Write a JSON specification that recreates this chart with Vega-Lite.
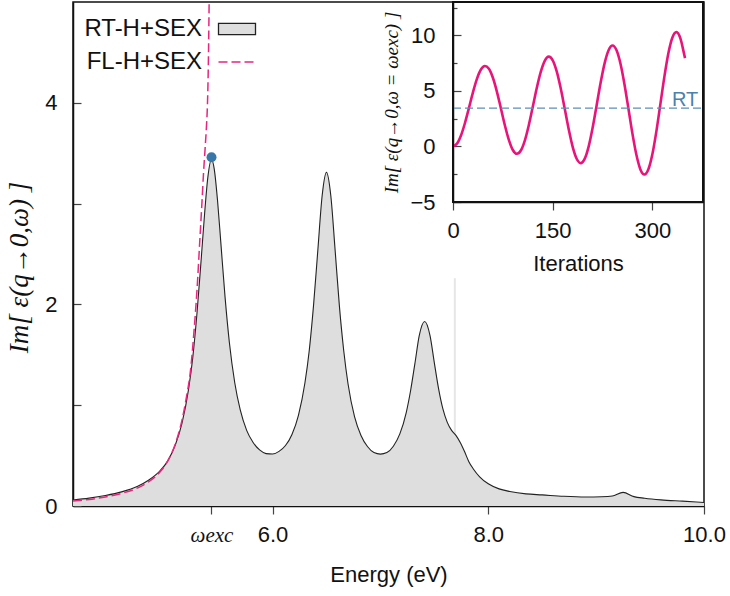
{
  "$schema": "https://vega.github.io/schema/vega-lite/v6.json",
  "width": 631,
  "height": 504,
  "autosize": {"type": "none"},
  "padding": {"left": 73, "top": 2, "right": 26, "bottom": 90},
  "background": "white",
  "config": {
    "font": "Liberation Sans",
    "view": {"stroke": "#111", "strokeWidth": 1.5},
    "axis": {
      "grid": false,
      "labelFlush": false,
      "labelFont": "Liberation Sans",
      "labelFontSize": 22,
      "labelColor": "#111",
      "titleFont": "Liberation Sans",
      "titleFontSize": 22,
      "titleFontWeight": "normal",
      "titleColor": "#111",
      "domainColor": "#111",
      "domainWidth": 1.5,
      "tickColor": "#444",
      "tickWidth": 1.2
    }
  },
  "datasets": {
    "rt": [
      {"x": 4.15, "y": 0.06}, {"x": 4.3, "y": 0.078}, {"x": 4.45, "y": 0.104}, {"x": 4.6, "y": 0.14},
      {"x": 4.75, "y": 0.196}, {"x": 4.85, "y": 0.255}, {"x": 4.95, "y": 0.34}, {"x": 5.03, "y": 0.45},
      {"x": 5.1, "y": 0.61}, {"x": 5.16, "y": 0.82}, {"x": 5.22, "y": 1.15}, {"x": 5.26, "y": 1.47},
      {"x": 5.3, "y": 1.92}, {"x": 5.34, "y": 2.47}, {"x": 5.37, "y": 2.9}, {"x": 5.4, "y": 3.26},
      {"x": 5.434, "y": 3.44}, {"x": 5.46, "y": 3.34}, {"x": 5.49, "y": 3.03}, {"x": 5.52, "y": 2.62},
      {"x": 5.56, "y": 2.07}, {"x": 5.6, "y": 1.62}, {"x": 5.65, "y": 1.22}, {"x": 5.7, "y": 0.955},
      {"x": 5.76, "y": 0.75}, {"x": 5.82, "y": 0.63}, {"x": 5.88, "y": 0.556}, {"x": 5.94, "y": 0.52},
      {"x": 6.0, "y": 0.516}, {"x": 6.06, "y": 0.542}, {"x": 6.12, "y": 0.6}, {"x": 6.18, "y": 0.71},
      {"x": 6.24, "y": 0.9}, {"x": 6.3, "y": 1.22}, {"x": 6.34, "y": 1.54}, {"x": 6.38, "y": 1.99},
      {"x": 6.42, "y": 2.54}, {"x": 6.46, "y": 3.08}, {"x": 6.5, "y": 3.31}, {"x": 6.54, "y": 3.08},
      {"x": 6.58, "y": 2.54}, {"x": 6.62, "y": 1.98}, {"x": 6.66, "y": 1.54}, {"x": 6.7, "y": 1.21},
      {"x": 6.76, "y": 0.886}, {"x": 6.82, "y": 0.7}, {"x": 6.88, "y": 0.59}, {"x": 6.94, "y": 0.53},
      {"x": 7.0, "y": 0.515}, {"x": 7.06, "y": 0.53}, {"x": 7.12, "y": 0.593}, {"x": 7.18, "y": 0.715},
      {"x": 7.24, "y": 0.93}, {"x": 7.28, "y": 1.146}, {"x": 7.32, "y": 1.415}, {"x": 7.36, "y": 1.69},
      {"x": 7.41, "y": 1.83}, {"x": 7.46, "y": 1.69}, {"x": 7.5, "y": 1.42}, {"x": 7.54, "y": 1.16},
      {"x": 7.58, "y": 0.96}, {"x": 7.62, "y": 0.83}, {"x": 7.66, "y": 0.75}, {"x": 7.7, "y": 0.7},
      {"x": 7.74, "y": 0.63}, {"x": 7.78, "y": 0.54}, {"x": 7.82, "y": 0.44}, {"x": 7.86, "y": 0.37},
      {"x": 7.92, "y": 0.29}, {"x": 8.0, "y": 0.22}, {"x": 8.1, "y": 0.17}, {"x": 8.2, "y": 0.144},
      {"x": 8.35, "y": 0.12}, {"x": 8.5, "y": 0.11}, {"x": 8.7, "y": 0.096}, {"x": 8.9, "y": 0.089},
      {"x": 9.05, "y": 0.092}, {"x": 9.15, "y": 0.1}, {"x": 9.25, "y": 0.135}, {"x": 9.35, "y": 0.093},
      {"x": 9.45, "y": 0.077}, {"x": 9.6, "y": 0.061}, {"x": 9.8, "y": 0.048}, {"x": 10.0, "y": 0.035}
    ],
    "fl": [
      {"x": 4.15, "y": 0.05}, {"x": 4.3, "y": 0.065}, {"x": 4.45, "y": 0.09}, {"x": 4.6, "y": 0.125},
      {"x": 4.75, "y": 0.18}, {"x": 4.85, "y": 0.24}, {"x": 4.95, "y": 0.33}, {"x": 5.03, "y": 0.45},
      {"x": 5.1, "y": 0.62}, {"x": 5.16, "y": 0.85}, {"x": 5.2, "y": 1.07}, {"x": 5.24, "y": 1.35},
      {"x": 5.273, "y": 1.75}, {"x": 5.3, "y": 2.15}, {"x": 5.326, "y": 2.64}, {"x": 5.345, "y": 3.0},
      {"x": 5.36, "y": 3.3}, {"x": 5.375, "y": 3.55}, {"x": 5.388, "y": 3.78}, {"x": 5.397, "y": 4.0},
      {"x": 5.405, "y": 4.4}, {"x": 5.41, "y": 4.8}, {"x": 5.415, "y": 5.3}, {"x": 5.42, "y": 6.0}
    ],
    "inset": [
      {"t": 0, "v": 0.03}, {"t": 6, "v": 0.25}, {"t": 12, "v": 0.98}, {"t": 18, "v": 2.11},
      {"t": 24, "v": 3.47}, {"t": 30, "v": 4.87}, {"t": 36, "v": 6.08}, {"t": 42, "v": 6.92},
      {"t": 48, "v": 7.24}, {"t": 54, "v": 6.99}, {"t": 60, "v": 6.18}, {"t": 66, "v": 4.94},
      {"t": 72, "v": 3.44}, {"t": 78, "v": 1.91}, {"t": 84, "v": 0.59}, {"t": 90, "v": -0.32},
      {"t": 96, "v": -0.66}, {"t": 102, "v": -0.37}, {"t": 108, "v": 0.53}, {"t": 114, "v": 1.91},
      {"t": 120, "v": 3.57}, {"t": 126, "v": 5.26}, {"t": 132, "v": 6.71}, {"t": 138, "v": 7.71},
      {"t": 144, "v": 8.08}, {"t": 150, "v": 7.75}, {"t": 156, "v": 6.75}, {"t": 162, "v": 5.23},
      {"t": 168, "v": 3.41}, {"t": 174, "v": 1.56}, {"t": 180, "v": -0.04}, {"t": 186, "v": -1.11},
      {"t": 192, "v": -1.5}, {"t": 198, "v": -1.12}, {"t": 204, "v": -0.01}, {"t": 210, "v": 1.68},
      {"t": 216, "v": 3.69}, {"t": 222, "v": 5.73}, {"t": 228, "v": 7.48}, {"t": 234, "v": 8.66},
      {"t": 240, "v": 9.08}, {"t": 246, "v": 8.65}, {"t": 252, "v": 7.42}, {"t": 258, "v": 5.56},
      {"t": 264, "v": 3.35}, {"t": 270, "v": 1.11}, {"t": 276, "v": -0.8}, {"t": 282, "v": -2.09},
      {"t": 288, "v": -2.52}, {"t": 294, "v": -2.03}, {"t": 300, "v": -0.66}, {"t": 306, "v": 1.4},
      {"t": 312, "v": 3.85}, {"t": 318, "v": 6.31}, {"t": 324, "v": 8.41}, {"t": 330, "v": 9.81},
      {"t": 336, "v": 10.29}, {"t": 342, "v": 9.73}, {"t": 348, "v": 8.21}, {"t": 349, "v": 7.95}
    ]
  },
  "layer": [
    {
      "layer": [
        {
          "data": {"values": [{"x": 7.69, "y": 0, "y2": 2.26}]},
          "mark": {"type": "rule", "color": "#e6e6e6", "strokeWidth": 2},
          "encoding": {
            "x": {
              "field": "x", "type": "quantitative",
              "scale": {"domain": [4.15, 10.0], "nice": false, "zero": false},
              "axis": {
                "orient": "bottom",
                "values": [5.434, 6, 8, 10],
                "title": "Energy (eV)",
                "titlePadding": 19,
                "tickSize": 8,
                "labelPadding": 10,
                "labelExpr": "datum.value < 5.9 ? 'ωexc' : format(datum.value, '.1f')",
                "labelFont": {"condition": {"test": "datum.value < 5.9", "value": "Liberation Serif"}, "value": "Liberation Sans"},
                "labelFontStyle": {"condition": {"test": "datum.value < 5.9", "value": "italic"}, "value": "normal"},
                "labelFontSize": {"condition": {"test": "datum.value < 5.9", "value": 21}, "value": 22}
              }
            },
            "y": {
              "field": "y", "type": "quantitative",
              "scale": {"domain": [0, 5.0], "nice": false, "zero": false},
              "axis": {
                "orient": "left",
                "values": [0, 1, 2, 3, 4],
                "format": "d",
                "tickSize": -8,
                "labelPadding": 24,
                "labelExpr": "datum.value % 2 === 0 ? datum.label : ''",
                "title": "Im[  ε(q→0,ω)  ]",
                "titleFont": "Liberation Serif",
                "titleFontStyle": "italic",
                "titleFontSize": 27,
                "titlePadding": 11,
                "titleY": 265
              }
            },
            "y2": {"field": "y2"}
          }
        },
        {
          "data": {"name": "rt"},
          "mark": {"type": "area", "interpolate": "monotone", "clip": true, "color": "#dedede"},
          "encoding": {
            "x": {"field": "x", "type": "quantitative"},
            "y": {"field": "y", "type": "quantitative"}
          }
        },
        {
          "data": {"name": "rt"},
          "mark": {"type": "line", "interpolate": "monotone", "strokeWidth": 1.1, "clip": true},
          "encoding": {
            "x": {"field": "x", "type": "quantitative"},
            "y": {"field": "y", "type": "quantitative"},
            "stroke": {
              "datum": "RT-H+SEX", "type": "nominal",
              "scale": {"domain": ["RT-H+SEX", "FL-H+SEX"], "range": ["#222222", "#e8267f"]},
              "legend": {
                "orient": "none",
                "legendX": 152,
                "legendY": 15,
                "title": null,
                "padding": 0,
                "rowPadding": 9,
                "symbolSize": 1369,
                "symbolType": "M-1,-0.3L1,-0.3L1,0.3L-1,0.3Z",
                "symbolStrokeWidth": 1.3,
                "labelFont": "Liberation Sans",
                "labelFontSize": 24,
                "labelColor": "#111",
                "labelAlign": "right",
                "labelOffset": -47,
                "labelLimit": 400,
                "encode": {
                  "symbols": {
                    "update": {
                      "shape": {"signal": "datum.value === 'FL-H+SEX' ? 'M-1,0L1,0' : 'M-1,-0.3L1,-0.3L1,0.3L-1,0.3Z'"},
                      "fill": {"signal": "datum.value === 'FL-H+SEX' ? 'transparent' : '#dedede'"},
                      "strokeDash": {"signal": "datum.value === 'FL-H+SEX' ? [9, 4] : [200, 0]"},
                      "strokeWidth": {"signal": "datum.value === 'FL-H+SEX' ? 1.5 : 1.3"},
                      "opacity": {"value": 1}
                    }
                  }
                }
              }
            }
          }
        },
        {
          "data": {"name": "fl"},
          "mark": {"type": "line", "interpolate": "monotone", "strokeWidth": 1.5, "strokeDash": [9, 4], "clip": true},
          "encoding": {
            "x": {"field": "x", "type": "quantitative"},
            "y": {"field": "y", "type": "quantitative"},
            "stroke": {"datum": "FL-H+SEX", "type": "nominal"}
          }
        },
        {
          "data": {"values": [{"x": 5.434, "y": 3.46}]},
          "mark": {"type": "point", "filled": true, "size": 100, "color": "#3a77a9", "opacity": 1},
          "encoding": {
            "x": {"field": "x", "type": "quantitative"},
            "y": {"field": "y", "type": "quantitative"}
          }
        }
      ]
    },
    {
      "layer": [
        {
          "data": {"name": "inset"},
          "mark": {"type": "line", "interpolate": "monotone", "color": "#e8147a", "strokeWidth": 2.6},
          "encoding": {
            "x": {
              "field": "t", "type": "quantitative",
              "scale": {"domain": [0, 376], "range": [380, 630], "nice": false, "zero": false},
              "axis": {
                "orient": "bottom",
                "offset": -304,
                "values": [0, 150, 300],
                "tickSize": 8,
                "labelPadding": 10,
                "title": "Iterations",
                "titlePadding": 12
              }
            },
            "y": {
              "field": "v", "type": "quantitative",
              "scale": {"domain": [-5, 13], "range": [200, 0], "nice": false, "zero": false},
              "axis": {
                "orient": "left",
                "offset": -380,
                "values": [-5, -2.5, 0, 2.5, 5, 7.5, 10, 12.5],
                "format": "d",
                "tickSize": {"condition": {"test": "datum.value % 5 === 0", "value": -8}, "value": -4},
                "labelPadding": 26,
                "labelExpr": "datum.value % 5 === 0 ? datum.label : ''",
                "title": "Im[ ε(q→0,ω = ωexc) ]",
                "titleFont": "Liberation Serif",
                "titleFontStyle": "italic",
                "titleFontSize": 19,
                "titlePadding": 8
              }
            }
          }
        },
        {
          "data": {"values": [{"v": 3.45}]},
          "mark": {"type": "rule", "color": "#5d8fb8", "strokeWidth": 1.4, "strokeDash": [8, 4]},
          "encoding": {
            "x": {"datum": 0, "type": "quantitative"},
            "x2": {"datum": 376},
            "y": {"field": "v", "type": "quantitative"}
          }
        },
        {
          "data": {"values": [{"t": 349, "v": 4.2, "label": "RT"}]},
          "mark": {"type": "text", "fontSize": 20, "color": "#4b82ad", "align": "center", "baseline": "middle", "font": "Liberation Sans"},
          "encoding": {
            "x": {"field": "t", "type": "quantitative"},
            "y": {"field": "v", "type": "quantitative"},
            "text": {"field": "label"}
          }
        },
        {
          "data": {"values": [{}]},
          "mark": {"type": "rect", "filled": false, "color": "#111", "strokeWidth": 2},
          "encoding": {
            "x": {"datum": 0, "type": "quantitative"},
            "x2": {"datum": 376},
            "y": {"datum": -5, "type": "quantitative"},
            "y2": {"datum": 13}
          }
        }
      ]
    }
  ],
  "resolve": {"scale": {"x": "independent", "y": "independent"}}
}
